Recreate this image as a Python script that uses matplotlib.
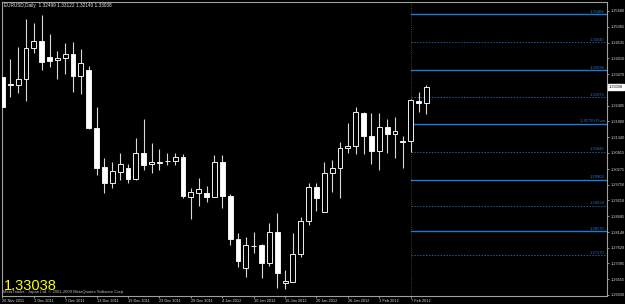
import matplotlib
matplotlib.use("Agg")
import matplotlib.pyplot as plt
import numpy as np

# daily EURUSD bars, 26 Nov 2011 .. 9 Feb 2012
opens = [1.33376, 1.33140, 1.33106, 1.33309, 1.34353, 1.34589, 1.34050, 1.33949, 1.34016, 1.34151,
         1.33410, 1.33612, 1.31657, 1.30343, 1.29804, 1.30175, 1.30309, 1.29939, 1.30815, 1.30444,
         1.30512, 1.30545, 1.30545, 1.30680, 1.29332, 1.29467, 1.29467, 1.29332, 1.30512, 1.29366,
         1.27917, 1.26939, 1.27682, 1.27716, 1.27107, 1.28153, 1.26434, 1.26468, 1.27411, 1.28524,
         1.29669, 1.28827, 1.30141, 1.30309, 1.30984, 1.31051, 1.32163, 1.31389, 1.30882, 1.31691,
         1.31455, 1.31219, 1.31219, 1.32567, 1.32499]
highs = [1.33410, 1.33983, 1.34387, 1.35331, 1.35196, 1.35465, 1.34825, 1.34252, 1.34522, 1.34556,
         1.34320, 1.33747, 1.32365, 1.30646, 1.30512, 1.30815, 1.30444, 1.31320, 1.31961, 1.31152,
         1.30950, 1.30815, 1.30815, 1.30781, 1.29635, 1.29972, 1.29703, 1.30747, 1.30747, 1.29433,
         1.28119, 1.27984, 1.28153, 1.27749, 1.28456, 1.28793, 1.26872, 1.28119, 1.28658, 1.29804,
         1.29804, 1.30512, 1.30579, 1.31186, 1.31826, 1.32365, 1.32197, 1.32163, 1.32163, 1.31961,
         1.32028, 1.31389, 1.32635, 1.32871, 1.33122]
lows = [1.32331, 1.32702, 1.32837, 1.32567, 1.34185, 1.33612, 1.33713, 1.33309, 1.33477, 1.32871,
        1.32803, 1.31624, 1.30074, 1.29467, 1.29635, 1.29905, 1.29804, 1.29905, 1.30242, 1.30141,
        1.30242, 1.30410, 1.30410, 1.29298, 1.28591, 1.29029, 1.29164, 1.29332, 1.28961, 1.27716,
        1.26973, 1.26636, 1.27445, 1.26602, 1.27006, 1.26266, 1.26232, 1.26468, 1.27310, 1.28389,
        1.28860, 1.28827, 1.29500, 1.29298, 1.30815, 1.30781, 1.30781, 1.30444, 1.30242, 1.30815,
        1.30646, 1.30309, 1.30849, 1.32197, 1.32140]
closes = [1.32365, 1.33106, 1.33309, 1.34353, 1.34589, 1.33882, 1.33915, 1.34016, 1.34151, 1.33410,
          1.33848, 1.31657, 1.30309, 1.29804, 1.30208, 1.30444, 1.29939, 1.30815, 1.30410, 1.30512,
          1.30478, 1.30530, 1.30680, 1.29366, 1.29500, 1.29602, 1.29332, 1.30512, 1.29366, 1.27917,
          1.27174, 1.27716, 1.27665, 1.27107, 1.28153, 1.26771, 1.26502, 1.27411, 1.28524, 1.29669,
          1.29298, 1.30141, 1.30309, 1.30984, 1.31051, 1.32197, 1.31389, 1.30882, 1.31691, 1.31455,
          1.31556, 1.31202, 1.32601, 1.32500, 1.33038]

date_labels = ["26 Nov 2011", "1 Dec 2011", "7 Dec 2011", "13 Dec 2011", "19 Dec 2011",
               "23 Dec 2011", "29 Dec 2011", "4 Jan 2012", "10 Jan 2012", "16 Jan 2012",
               "20 Jan 2012", "26 Jan 2012", "1 Feb 2012", "7 Feb 2012"]
price_ticks = [1.35600, 1.35065, 1.34535, 1.34010, 1.33470, 1.32940, 1.32405, 1.31880, 1.31340,
               1.30815, 1.30275, 1.29750, 1.29218, 1.28685, 1.28148, 1.27620, 1.27095, 1.26555,
               1.26030]

pivot_solid = [1.35484, 1.33596, 1.31790, 1.29902, 1.28176]
pivot_solid_labels = ["1.35484", "1.33596", "1.31790 Pivot", "1.29902", "1.28176"]
pivot_mid = [1.34540, 1.32693, 1.30846, 1.29039, 1.27370]
pivot_start = 52  # bar index of 7 Feb 2012

last_price = 1.33038

fig = plt.figure(figsize=(6.25, 3.04), dpi=100, facecolor="black")
ax = fig.add_axes([2 / 625, 8 / 304, 605 / 625, 294 / 304])
ax.set_facecolor("black")

x = np.arange(len(opens))
o = np.array(opens)
c = np.array(closes)
up = c >= o

ax.vlines(x, lows, highs, color="#d8d8d8", lw=0.8, zorder=2)
ax.bar(x, c - o, bottom=o, width=0.62,
       color=np.where(up, "black", "white"), edgecolor="#f0f0f0", lw=0.7, zorder=3)

# pivot levels
xs = [pivot_start, 77]
for lvl, lab in zip(pivot_solid, pivot_solid_labels):
    ax.plot(xs, [lvl, lvl], color="#1f7ad6", lw=1.0, zorder=1)
    ax.text(76.7, lvl + 0.0002, lab, color="#2b78c8", fontsize=3, ha="right", va="bottom",
            family="Liberation Sans")
for lvl in pivot_mid:
    ax.plot(xs, [lvl, lvl], color="#1b5c9e", lw=0.7, ls=(0, (1.5, 1.5)), zorder=1)
    ax.text(76.7, lvl + 0.0002, f"{lvl:.5f}", color="#2b6aac", fontsize=3, ha="right",
            va="bottom", family="Liberation Sans")
ax.axvline(pivot_start, color="#707070", lw=0.5, ls=(0, (1, 2)), zorder=0)

ax.set_xlim(-0.05, 77.0)
ax.set_ylim(1.25996, 1.35903)

ax.yaxis.tick_right()
ax.set_yticks(price_ticks)
ax.set_yticklabels([f"{t:.5f}" for t in price_ticks])
ax.set_xticks(np.arange(0, 4 * len(date_labels), 4))
ax.set_xticklabels(date_labels, ha="left")
ax.tick_params(axis="both", colors="#c8c8c8", labelcolor="#d8d8d8", labelsize=2.8,
               length=1.5, width=0.5, pad=0.8)
for lab in ax.get_xticklabels() + ax.get_yticklabels():
    lab.set_family("Liberation Sans")
for s in ax.spines.values():
    s.set_color("#a0a0a0")
    s.set_linewidth(0.8)

# current price marker on the price scale
ax.text(1.003, last_price, f"{last_price:.5f}", transform=ax.get_yaxis_transform(),
        fontsize=2.8, color="black", va="center", ha="left", family="Liberation Sans",
        bbox=dict(boxstyle="square,pad=0.3", fc="white", ec="white"), clip_on=False)

fig.text(4 / 625, 1 - 6 / 304, "EURUSD,Daily  1.32499 1.33122 1.32140 1.33038",
         color="#e8e8e8", fontsize=3.4, va="center", family="Liberation Sans")
fig.text(4 / 625, 1 - 286 / 304, f"{last_price:.5f}", color="yellow", fontsize=10.5,
         va="center", family="Liberation Sans")
fig.text(3 / 625, 1 - 292 / 304, "MetaTrader - Japan Ltd. \u00a9 2001-2009 MetaQuotes Software Corp.",
         color="#c0c0c0", fontsize=3, va="center", family="Liberation Sans")

fig.savefig("out.png", dpi=100, facecolor="black")
